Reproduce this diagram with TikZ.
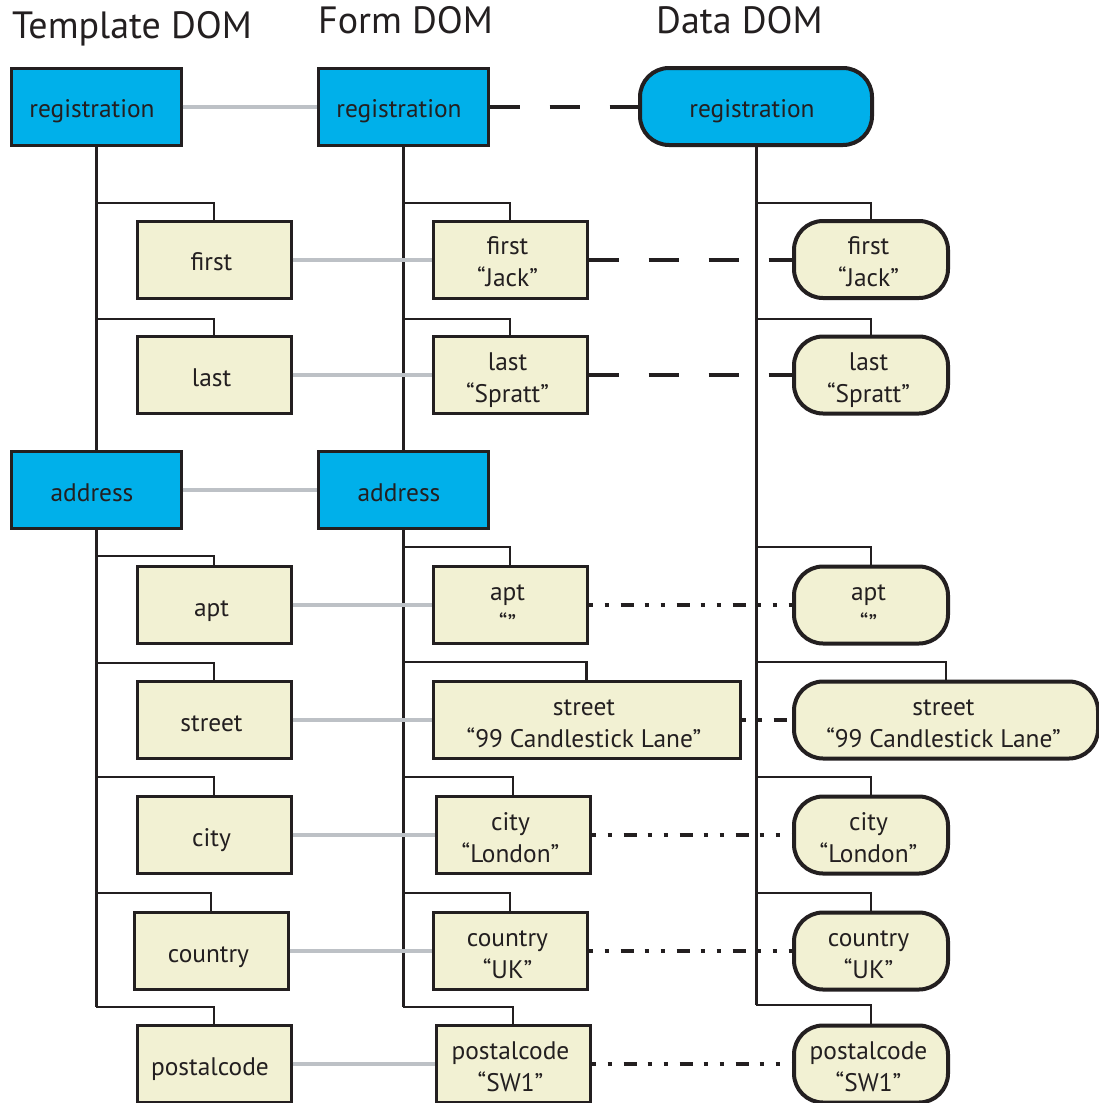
\documentclass[tikz,border=0pt]{standalone}
\usepackage{fontspec}
\setmainfont{PT Sans}
\definecolor{ink}{HTML}{231F20}
\definecolor{domblue}{HTML}{00B0EA}
\definecolor{domyellow}{HTML}{F2F1D3}
\definecolor{bindgray}{HTML}{BDC1C6}
% label text, nudged slightly left and down as in the original
\newcommand\lbl[2][5pt]{\raisebox{-5pt}[\height][\depth]{\makebox[\width][l]{\hspace*{-#1}\begin{tabular}{@{}c@{}}#2\end{tabular}}}}
\begin{document}
\begin{tikzpicture}[x=1pt,y=-1pt,
  every node/.style={font=\fontsize{25.4}{32}\selectfont, text=ink, inner sep=0pt},
  bluebox/.style={draw=ink, line width=3pt, fill=domblue, minimum width=170pt, minimum height=77pt},
  ybox/.style={draw=ink, line width=3pt, fill=domyellow, minimum width=154pt, minimum height=77pt},
  rbox/.style={ybox, line width=4pt, rounded corners=29pt},
  trunk/.style={draw=ink, line width=3pt},
  branch/.style={draw=ink, line width=2.5pt},
  bind/.style={draw=bindgray, line width=4pt},
  merge/.style={draw=ink, line width=4pt, dash pattern=on 30pt off 30pt},
  mergedot/.style={draw=ink, line width=4pt, dash pattern=on 13pt off 11pt on 4pt off 12pt on 4pt off 12pt, dash phase=24pt},
  title/.style={font=\fontsize{38}{40}\selectfont, anchor=base west}
]
\useasboundingbox (0,0) rectangle (1099,1103);

% titles
\node[title] (ttl1) at (12,38) {Template DOM};
\node[title] (ttl2) at (318,33) {Form DOM};
\node[title] (ttl3) at (656,33) {Data DOM};

% Template DOM
\node[bluebox] (treg) at (96,106.5) {\lbl[8pt]{registration}};
\node[ybox] (tfirst) at (214,259.5) {\lbl{first}};
\node[ybox] (tlast) at (214,375) {\lbl{last}};
\node[bluebox] (taddr) at (96,490) {\lbl[8pt]{address}};
\node[ybox] (tapt) at (214,605) {\lbl{apt}};
\node[ybox] (tstreet) at (214,720) {\lbl{street}};
\node[ybox] (tcity) at (214,835) {\lbl{city}};
\node[ybox] (tcountry) at (211,951) {\lbl{country}};
\node[ybox] (tpost) at (214,1064) {\lbl[8pt]{postalcode}};

% Form DOM
\node[bluebox] (freg) at (403,106.5) {\lbl[8pt]{registration}};
\node[ybox] (ffirst) at (510,259.5) {\lbl{first\\“Jack”}};
\node[ybox] (flast) at (510,375) {\lbl{last\\“Spratt”}};
\node[bluebox] (faddr) at (403,490) {\lbl[8pt]{address}};
\node[ybox] (fapt) at (510,605) {\lbl{apt\\“”}};
\node[ybox, minimum width=307pt] (fstreet) at (586.5,720) {\lbl{street\\“99 Candlestick Lane”}};
\node[ybox] (fcity) at (513,835) {\lbl{city\\“London”}};
\node[ybox] (fcountry) at (510,951) {\lbl{country\\“UK”}};
\node[ybox] (fpost) at (513,1064) {\lbl{postalcode\\“SW1”}};

% Data DOM
\node[rbox, fill=domblue, minimum width=232pt] (dreg) at (756,106.5) {\lbl[8pt]{registration}};
\node[rbox] (dfirst) at (871,259.5) {\lbl{first\\“Jack”}};
\node[rbox] (dlast) at (871,375) {\lbl{last\\“Spratt”}};
\node[rbox] (dapt) at (871,605) {\lbl{apt\\“”}};
\node[rbox, minimum width=304pt] (dstreet) at (946,720) {\lbl{street\\“99 Candlestick Lane”}};
\node[rbox] (dcity) at (871,835) {\lbl{city\\“London”}};
\node[rbox] (dcountry) at (871,951) {\lbl{country\\“UK”}};
\node[rbox] (dpost) at (871,1064) {\lbl{postalcode\\“SW1”}};

% trunks
\draw[trunk] (treg.south) -- (taddr.north);
\draw[trunk] (taddr.south) -- (taddr.south |- 0,1007);
\draw[trunk] (freg.south) -- (faddr.north);
\draw[trunk] (faddr.south) -- (faddr.south |- 0,1007);
\draw[trunk] (dreg.south) -- (dreg.south |- 0,1005);

% branches: template
\draw[branch] (treg.south |- 0,203) -| (tfirst.north);
\draw[branch] (treg.south |- 0,319) -| (tlast.north);
\draw[branch] (taddr.south |- 0,556) -| (tapt.north);
\draw[branch] (taddr.south |- 0,663) -| (tstreet.north);
\draw[branch] (taddr.south |- 0,777) -| (tcity.north);
\draw[branch] (taddr.south |- 0,893) -| (tcountry.north);
\draw[branch] (taddr.south |- 0,1007) -| (tpost.north);
% branches: form
\draw[branch] (freg.south |- 0,203) -| (ffirst.north);
\draw[branch] (freg.south |- 0,319) -| (flast.north);
\draw[branch] (faddr.south |- 0,547) -| (fapt.north);
\draw[branch] (faddr.south |- 0,662) -| (fstreet.north);
\draw[branch] (faddr.south |- 0,777) -| (fcity.north);
\draw[branch] (faddr.south |- 0,893) -| (fcountry.north);
\draw[branch] (faddr.south |- 0,1007) -| (fpost.north);
% branches: data
\draw[branch] (dreg.south |- 0,203) -| (dfirst.north);
\draw[branch] (dreg.south |- 0,319) -| (dlast.north);
\draw[branch] (dreg.south |- 0,547) -| (dapt.north);
\draw[branch] (dreg.south |- 0,662) -| (dstreet.north);
\draw[branch] (dreg.south |- 0,777) -| (dcity.north);
\draw[branch] (dreg.south |- 0,893) -| (dcountry.north);
\draw[branch] (dreg.south |- 0,1005) -| (dpost.north);

% template-form bindings
\draw[bind] (treg.east) -- (freg.west);
\draw[bind] (tfirst.east) -- (ffirst.west);
\draw[bind] (tlast.east) -- (flast.west);
\draw[bind] (taddr.east) -- (faddr.west);
\draw[bind] (tapt.east) -- (fapt.west);
\draw[bind] (tstreet.east) -- (fstreet.west);
\draw[bind] (tcity.east) -- (fcity.west);
\draw[bind] (tcountry.east) -- (fcountry.west);
\draw[bind] (tpost.east) -- (fpost.west);

% form-data merges
\draw[merge] (freg.east) -- (dreg.west);
\draw[merge] (ffirst.east) -- (dfirst.west);
\draw[merge] (flast.east) -- (dlast.west);
\draw[mergedot] (fapt.east) -- (dapt.west);
\draw[mergedot] (fstreet.east) -- (dstreet.west);
\draw[mergedot] (fcity.east) -- (dcity.west);
\draw[mergedot] (fcountry.east) -- (dcountry.west);
\draw[mergedot] (fpost.east) -- (dpost.west);
\end{tikzpicture}
\end{document}
